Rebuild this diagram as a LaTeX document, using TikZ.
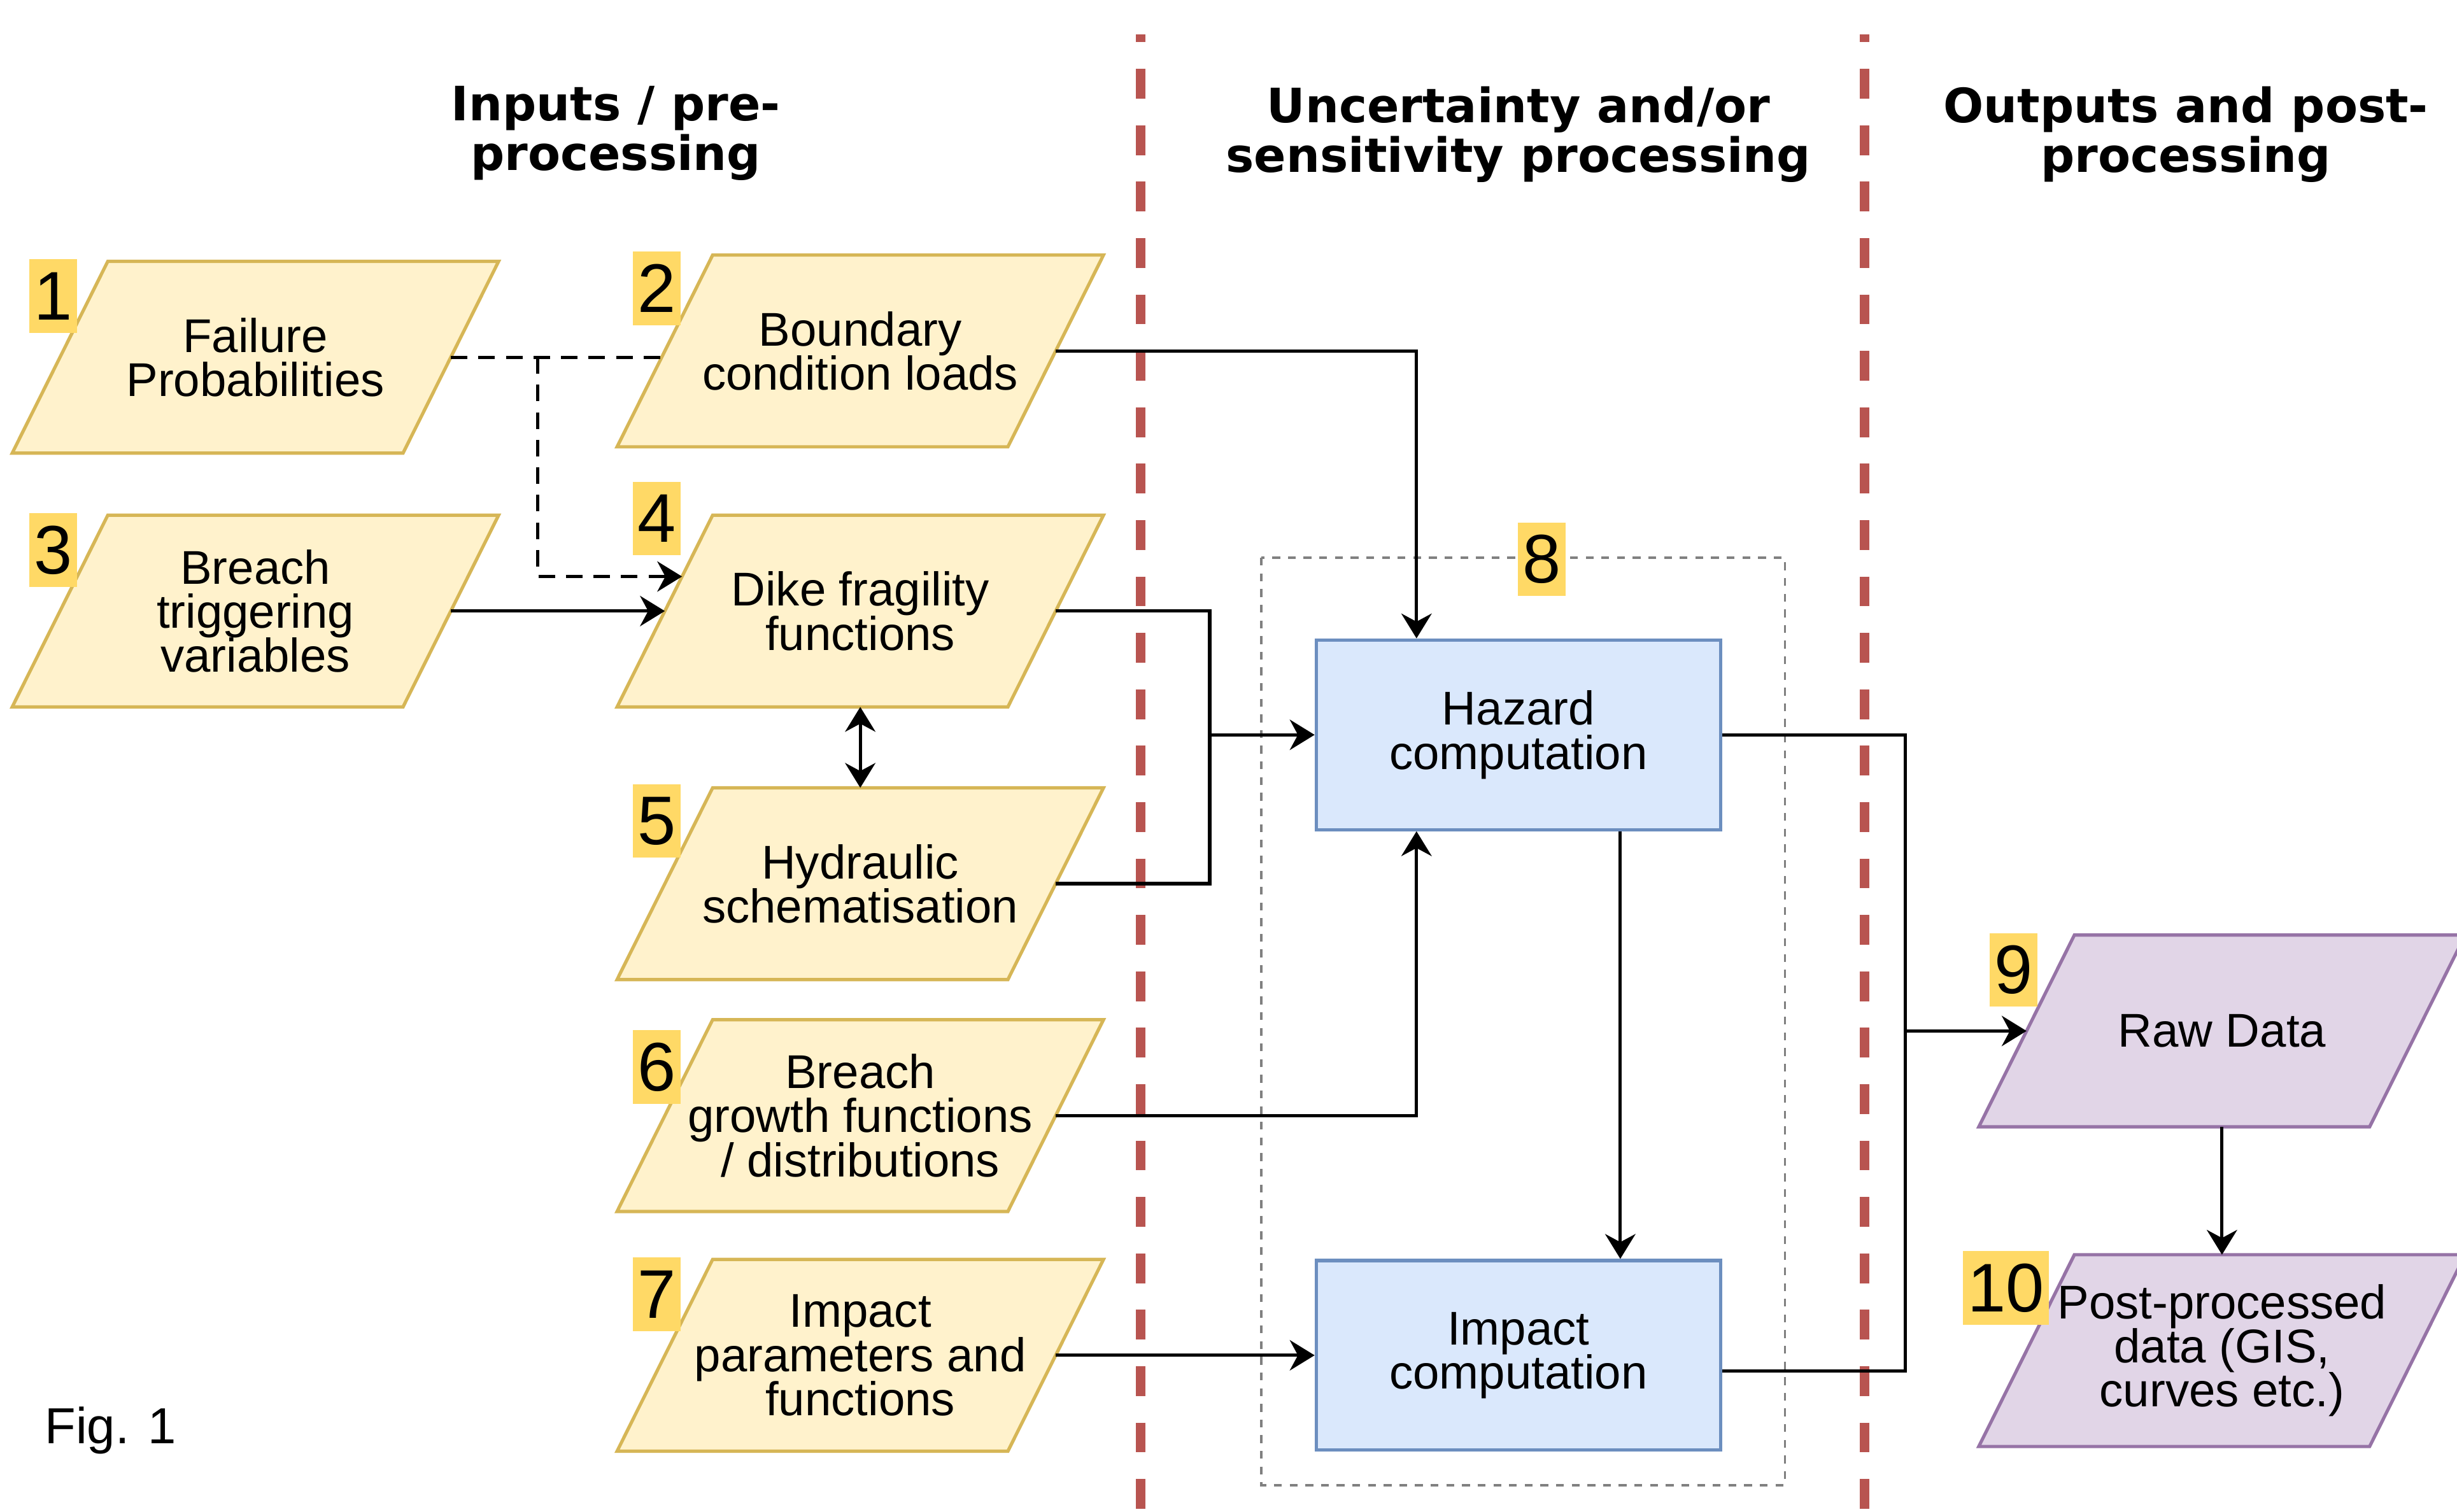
\documentclass[tikz,border=0pt]{standalone}
\usepackage{fontspec}
\setmainfont{Liberation Sans}
\newfontfamily\headfont{DejaVu Sans}
\usepackage{tikz}
\usetikzlibrary{calc}
\usetikzlibrary{arrows.meta,backgrounds}

\definecolor{inputfill}{HTML}{FFF2CC}
\definecolor{inputline}{HTML}{D6B656}
\definecolor{compfill}{HTML}{DAE8FC}
\definecolor{compline}{HTML}{6C8EBF}
\definecolor{rawfill}{HTML}{E1D5E7}
\definecolor{rawline}{HTML}{9673A6}
\definecolor{tagfill}{HTML}{FFD966}
\definecolor{lanered}{HTML}{B85450}
\newcommand{\bodyfont}{\fontsize{8.6}{8}\selectfont\lineskiplimit=-10pt}

\begin{document}
\begin{tikzpicture}[
    >={Stealth[length=4.5pt,width=5.5pt]},
    para/.style={rectangle, minimum width=3.09cm, minimum height=1.21cm,
        inner sep=0pt, align=center, font=\bodyfont},
    compbox/.style={rectangle, draw=compline, fill=compfill, line width=0.6pt,
        minimum width=2.58cm, minimum height=1.21cm, align=center, font=\bodyfont},
    numtag/.style={fill=tagfill, minimum width=0.3cm, minimum height=0.47cm,
        inner xsep=0.3mm, inner ysep=0pt, font=\fontsize{12.5}{12.5}\selectfont},
    header/.style={align=center, font=\headfont\bfseries\fontsize{8.6}{9}\selectfont},
    link/.style={line width=0.6pt, ->},
    lane/.style={lanered, line width=1.7pt, dash pattern=on 0.19cm off 0.17cm, dash phase=0.14cm}
]
        \useasboundingbox (0,0) rectangle (15.68,-9.65);
        %HEADERS
        \node[header] (hin) at (3.93,-0.85) {Inputs / pre-\\processing};
        \node[header] (hunc) at (9.69,-0.86) {Uncertainty and/or\\sensitivity processing};
        \node[header] (hout) at (13.95,-0.86) {Outputs and post-\\processing};
        %LANES
        \draw[lane] (7.28,-0.22) -- (7.28,-9.65);
        \draw[lane] (11.90,-0.22) -- (11.90,-9.65);
        %GROUP 8
        \draw[gray, line width=0.4pt, dash pattern=on 0.05cm off 0.05cm] (8.05,-3.56) rectangle (11.39,-9.48);
        %INPUTS
        \node[para] (fail) at (1.63,-2.28) {Failure\\Probabilities};
        \node[para] (trig) at (1.63,-3.90) {Breach\\triggering\\variables};
        \node[para] (bound) at (5.49,-2.24) {Boundary\\condition loads};
        \node[para] (frag) at (5.49,-3.90) {Dike fragility\\functions};
        \node[para] (hydr) at (5.49,-5.64) {Hydraulic\\schematisation};
        \node[para] (growth) at (5.49,-7.12) {Breach\\growth functions\\/ distributions};
        \node[para] (imppar) at (5.49,-8.65) {Impact\\parameters and\\functions};
        %COMPUTATION
        \node[compbox] (haz) at (9.69,-4.69) {Hazard\\computation};
        \node[compbox] (imp) at (9.69,-8.65) {Impact\\computation};
        %OUTPUTS
        \node[para] (raw) at (14.18,-6.58) {Raw Data};
        \node[para] (post) at (14.18,-8.62) {Post-processed\\data (GIS,\\curves etc.)};
        %PARALLELOGRAMS
        \begin{pgfonlayer}{background}
            \foreach \shp/\col in {fail/input, trig/input, bound/input, frag/input, hydr/input,
                growth/input, imppar/input, raw/raw, post/raw}
                \draw[line width=0.6pt, draw=\col line, fill=\col fill]
                    ([xshift=0.61cm]\shp.north west) -- (\shp.north east)
                    -- ([xshift=-0.61cm]\shp.south east) -- (\shp.south west) -- cycle;
        \end{pgfonlayer}
        %NUMBERS
        \node[numtag] (t1) at (0.34,-1.89) {1};
        \node[numtag] (t2) at (4.19,-1.84) {2};
        \node[numtag] (t3) at (0.34,-3.51) {3};
        \node[numtag] (t4) at (4.19,-3.31) {4};
        \node[numtag] (t5) at (4.19,-5.24) {5};
        \node[numtag] (t6) at (4.19,-6.81) {6};
        \node[numtag] (t7) at (4.19,-8.26) {7};
        \node[numtag] (t8) at (9.84,-3.57) {8};
        \node[numtag] (t9) at (12.85,-6.19) {9};
        \node[numtag] (t10) at (12.80,-8.22) {10};
        \node[anchor=west, inner sep=0pt, font=\fontsize{9.2}{11}\selectfont] (fig) at (0.28,-9.13) {Fig. 1};
        %DASHED LINKS
        \draw[line width=0.6pt, dash pattern=on 3pt off 2pt] ([xshift=-0.305cm]fail.east) -- ([xshift=0.305cm]fail.east -| bound.west);
        \coordinate (split) at (3.43,-2.28);
        \draw[link, dash pattern=on 3pt off 2pt] (split) |- ($(frag.south west)!0.68!([xshift=0.61cm]frag.north west)$);
        %LINKS
        \draw[link] ([xshift=-0.305cm]trig.east) -- ([xshift=0.305cm]frag.west);
        \draw[link] ([xshift=-0.305cm]bound.east) -| ($(haz.north west)!0.25!(haz.north east)$);
        \coordinate (merge) at (7.72,-4.69);
        \draw[line width=0.6pt] ([xshift=-0.305cm]frag.east) -| (merge);
        \draw[line width=0.6pt] ([xshift=-0.305cm]hydr.east) -| (merge);
        \draw[link] (merge) -- (haz.west);
        \draw[link, <->] (frag.south) -- (hydr.north);
        \draw[link] ([xshift=-0.305cm]growth.east) -| ($(haz.south west)!0.25!(haz.south east)$);
        \draw[link] ($(haz.south west)!0.75!(haz.south east)$) -- ($(imp.north west)!0.75!(imp.north east)$);
        \draw[link] ([xshift=-0.305cm]imppar.east) -- (imp.west);
        \coordinate (bus) at (12.16,-8.75);
        \draw[line width=0.6pt] (haz.east) -| (bus) -- (bus -| imp.east);
        \draw[link] (bus |- raw.west) -- ([xshift=0.305cm]raw.west);
        \draw[link] (raw.south) -- (post.north);
\end{tikzpicture}
\end{document}
